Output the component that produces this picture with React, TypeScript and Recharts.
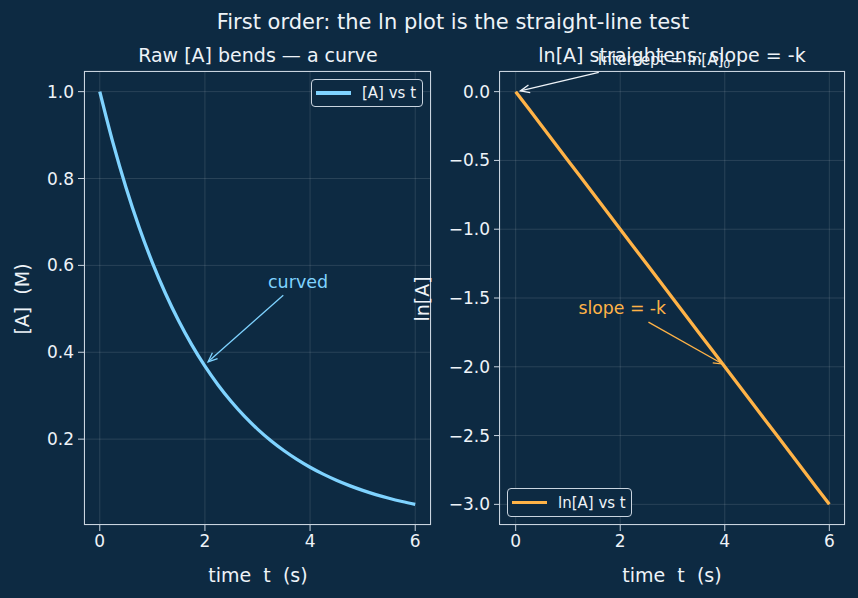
import { CartesianGrid, Line, LineChart, ReferenceDot, ReferenceLine, XAxis, YAxis } from "recharts"

const times = [0, 0.25, 0.5, 0.75, 1, 1.25, 1.5, 1.75, 2, 2.25, 2.5, 2.75, 3, 3.25, 3.5, 3.75, 4, 4.25, 4.5, 4.75, 5, 5.25, 5.5, 5.75, 6]
const concA = [1, 0.8825, 0.7788, 0.6873, 0.6065, 0.5353, 0.4724, 0.4169, 0.3679, 0.3247, 0.2865, 0.2528, 0.2231, 0.1969, 0.1738, 0.1534, 0.1353, 0.1194, 0.1054, 0.093, 0.0821, 0.0724, 0.0639, 0.0564, 0.0498]
const lnA = [0, -0.125, -0.25, -0.375, -0.5, -0.625, -0.75, -0.875, -1, -1.125, -1.25, -1.375, -1.5, -1.625, -1.75, -1.875, -2, -2.125, -2.25, -2.375, -2.5, -2.625, -2.75, -2.875, -3]

const xTicks = [0, 2, 4, 6]
const leftYTicks = [0.2, 0.4, 0.6, 0.8, 1.0]
const rightYTicks = [0, -0.5, -1, -1.5, -2, -2.5, -3]

const rawData = times.map((t, i) => ({ t, a: concA[i] }))
const lnData = times.map((t, i) => ({ t, ln: lnA[i] }))

const BG = "#0d2a42"
const FG = "#eef3f8"
const SPINE = "#c9d4df"
const BLUE = "#7fd3ff"
const ORANGE = "#ffb347"
const FONT = "'DejaVu Sans', sans-serif"

const fmt = (v: number) => (v < 0 ? "\u2212" + Math.abs(v).toFixed(1) : v.toFixed(1))

function Arrow(color: string) {
    return (p: any) => {
        const { x1, y1, x2, y2 } = p
        const ang = Math.atan2(y2 - y1, x2 - x1)
        const len = 10
        const spread = 0.4
        const ax = x2 - len * Math.cos(ang - spread)
        const ay = y2 - len * Math.sin(ang - spread)
        const bx = x2 - len * Math.cos(ang + spread)
        const by = y2 - len * Math.sin(ang + spread)
        return (
            <g>
                <line x1={x1} y1={y1} x2={x2} y2={y2} stroke={color} strokeWidth={1.3} />
                <path d={`M${ax},${ay} L${x2},${y2} L${bx},${by}`} fill="none" stroke={color} strokeWidth={1.3} />
            </g>
        )
    }
}

const tickStyle = { fill: FG, fontSize: 17, fontFamily: FONT }

function Frame({ left, top, width, height }: { left: number; top: number; width: number; height: number }) {
    return <div style={{ position: "absolute", left, top, width, height, border: `1.2px solid ${SPINE}`, boxSizing: "border-box", pointerEvents: "none" }} />
}

function Txt({ left, top, size, color = FG, children, rotate, center }: any) {
    return (
        <div style={{
            position: "absolute", left, top, fontSize: size, color, fontFamily: FONT, whiteSpace: "pre", lineHeight: 1,
            transform: `${center ? "translate(-50%,-50%)" : ""} ${rotate ? "translate(-50%,-50%) rotate(-90deg)" : ""}`,
        }}>{children}</div>
    )
}

function LegendBox({ left, top, width, height, color, label }: any) {
    return (
        <div style={{
            position: "absolute", left, top, width, height, border: `1.2px solid ${SPINE}`, borderRadius: 4, boxSizing: "border-box",
            background: BG, display: "flex", alignItems: "center", paddingLeft: 4, fontFamily: FONT, fontSize: 15, color: FG,
        }}>
            <div style={{ width: 35, height: 3.3, background: color, marginRight: 11 }} />
            {label}
        </div>
    )
}

export default function App() {
    return (
        <div style={{ position: "fixed", left: 0, top: 0, width: 858, height: 598, background: BG, overflow: "hidden" }}>
            <Txt left={453} top={22} size={21} center>First order: the ln plot is the straight-line test</Txt>
            <Txt left={258} top={55} size={19} center>Raw [A] bends — a curve</Txt>
            <Txt left={672} top={55} size={19} center>ln[A] straightens: slope = -k</Txt>

            <div style={{ position: "absolute", left: 0, top: 0 }}>
                <LineChart width={440} height={598} data={rawData} margin={{ top: 71, right: 9, bottom: 33, left: 24 }}>
                    <CartesianGrid stroke="rgba(255,255,255,0.2)" strokeWidth={0.6} />
                    <XAxis dataKey="t" type="number" domain={[-0.3, 6.3]} ticks={xTicks} tick={tickStyle} tickSize={6} tickMargin={4}
                        axisLine={false} tickLine={{ stroke: SPINE }} height={40} />
                    <YAxis type="number" domain={[0.0023, 1.0475]} ticks={leftYTicks} tickFormatter={fmt} tick={tickStyle}
                        tickSize={6} tickMargin={4} axisLine={false} tickLine={{ stroke: SPINE }} width={60} />
                    <Line type="monotone" dataKey="a" stroke={BLUE} strokeWidth={3.3} dot={false} isAnimationActive={false} />
                    <ReferenceLine segment={[{ x: 3.49, y: 0.531 }, { x: 2.06, y: 0.378 }]} ifOverflow="visible" shape={Arrow(BLUE)} />
                    <ReferenceDot x={3.2} y={0.549} ifOverflow="visible"
                        shape={(p: any) => <text x={p.cx} y={p.cy} fill={BLUE} fontSize={17.5} fontFamily={FONT}>curved</text>} />
                </LineChart>
            </div>

            <div style={{ position: "absolute", left: 440, top: 0 }}>
                <LineChart width={418} height={598} data={lnData} margin={{ top: 71, right: 13, bottom: 33, left: 9 }}>
                    <CartesianGrid stroke="rgba(255,255,255,0.2)" strokeWidth={0.6} />
                    <XAxis dataKey="t" type="number" domain={[-0.3, 6.3]} ticks={xTicks} tick={tickStyle} tickSize={6} tickMargin={4}
                        axisLine={false} tickLine={{ stroke: SPINE }} height={40} />
                    <YAxis type="number" domain={[-3.15, 0.15]} ticks={rightYTicks} tickFormatter={fmt} tick={tickStyle}
                        tickSize={6} tickMargin={4} axisLine={false} tickLine={{ stroke: SPINE }} width={51} />
                    <Line type="linear" dataKey="ln" stroke={ORANGE} strokeWidth={3.3} dot={false} isAnimationActive={false} />
                    <ReferenceLine segment={[{ x: 2.54, y: -1.675 }, { x: 3.96, y: -1.98 }]} ifOverflow="visible" shape={Arrow(ORANGE)} />
                    <ReferenceDot x={1.2} y={-1.617} ifOverflow="visible"
                        shape={(p: any) => <text x={p.cx} y={p.cy} fill={ORANGE} fontSize={17.3} fontFamily={FONT}>slope = -k</text>} />
                    <ReferenceLine segment={[{ x: 1.59, y: 0.14 }, { x: 0.09, y: 0.005 }]} ifOverflow="visible" shape={Arrow(FG)} />
                    <ReferenceDot x={1.57} y={0.19} ifOverflow="visible"
                        shape={(p: any) => (
                            <text x={p.cx} y={p.cy} fill={FG} fontSize={15} fontFamily={FONT}>
                                Intercept = ln[A]<tspan fontSize={11} dy={3}>0</tspan>
                            </text>
                        )} />
                </LineChart>
            </div>

            <Frame left={84} top={71} width={347} height={454} />
            <Frame left={499} top={71} width={346} height={454} />

            <Txt left={258} top={575} size={19} center>time  t  (s)</Txt>
            <Txt left={672} top={575} size={19} center>time  t  (s)</Txt>
            <Txt left={22} top={299} size={19} rotate>[A]  (M)</Txt>
            <Txt left={422} top={299} size={19} rotate>ln[A]</Txt>

            <LegendBox left={311} top={79} width={112} height={28} color={BLUE} label="[A] vs t" />
            <LegendBox left={507} top={488} width={125} height={29} color={ORANGE} label="ln[A] vs t" />
        </div>
    )
}
